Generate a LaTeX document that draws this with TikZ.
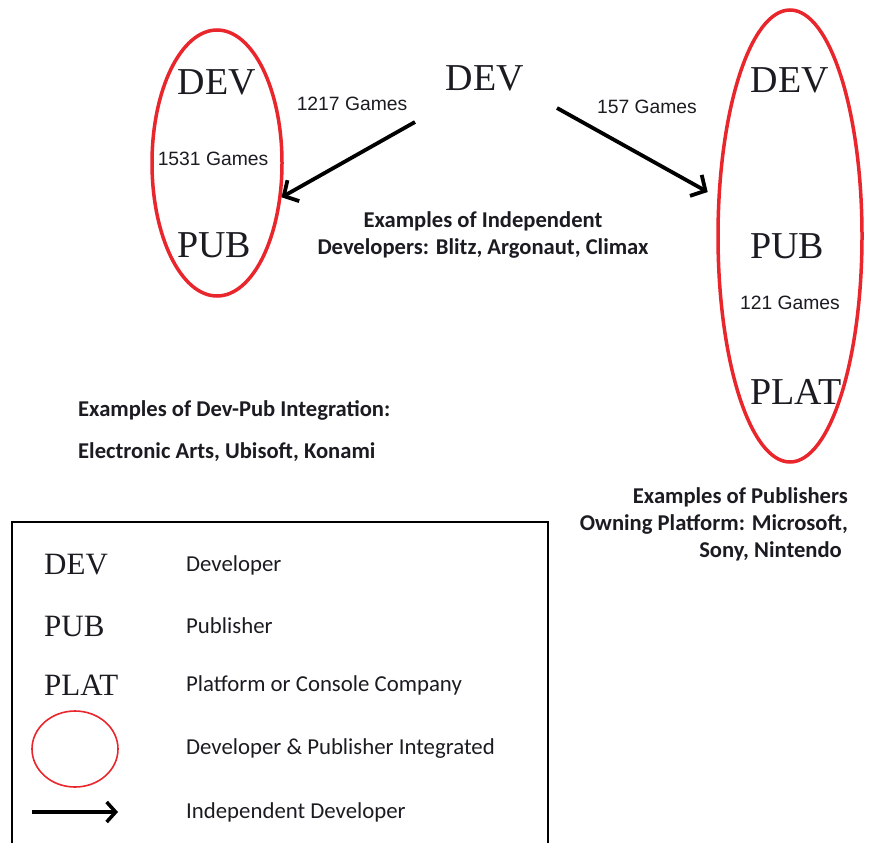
\documentclass[tikz,border=0pt]{standalone}
\usepackage{fontspec}
\setmainfont{Liberation Serif}
\newfontfamily\gamesfont{Liberation Sans}
\newfontfamily\notefont{Carlito}
\usepackage{tikz}
\usetikzlibrary{arrows.meta,positioning,shapes.geometric}
\definecolor{GRed}{HTML}{E8262C}
\definecolor{GInk}{HTML}{1B1B22}

\begin{document}
\begin{tikzpicture}[
  x=1pt,y=-1pt,
  role/.style={text=GInk,inner sep=1pt,font=\fontsize{38}{40}\selectfont},
  keyrole/.style={text=GInk,inner sep=0pt,anchor=west,font=\fontsize{31}{33}\selectfont},
  games/.style={text=GInk,inner sep=1pt,font=\gamesfont\fontsize{19.3}{22}\selectfont},
  note/.style={text=GInk,inner sep=0pt,font=\notefont\bfseries\fontsize{22.6}{27}\selectfont},
  keytext/.style={text=GInk,inner sep=0pt,anchor=west,font=\notefont\fontsize{22.8}{26}\selectfont},
  grp/.style={ellipse,draw=GRed,line width=3.5pt,inner sep=0pt},
  a/.style={-{Straight Barb[length=11pt,width=24pt,line width=3.8pt]},line width=3.8pt,color=black}
]
  \useasboundingbox (0,0) rectangle (874,843);

  % integrated developer / publisher
  \node[grp,minimum width=130,minimum height=266] (lgrp) at (217,163) {};
  \node[role] (ldev) at (217,82) {DEV};
  \node[role] (lpub) at (214,245) {PUB};
  \node[games] (l1531) at (213,159) {1531 Games};

  % publisher owning platform
  \node[grp,minimum width=144,minimum height=452] (rgrp) at (790,236) {};
  \node[role] (rdev) at (790,80) {DEV};
  \node[role] (rpub) at (787,246) {PUB};
  \node[games] (l121) at (790,303) {121 Games};
  \node[role] (rplat) at (796,392) {PLAT};

  % independent developer
  \node[role] (mdev) at (485,78) {DEV};
  \node[games] (l1217) at (352,104) {1217 Games};
  \node[games] (l157) at (647,107) {157 Games};
  \coordinate (startL) at (415,122);
  \coordinate (startR) at (557,108);
  \draw[a] (startL) -- (lgrp.-28);
  \draw[a,shorten >=11pt] (startR) -- (rgrp.152);

  % examples
  \node[note,align=center] (exind) at (483,235)
    {Examples of Independent\\Developers: Blitz, Argonaut, Climax};
  \node[note,anchor=west] (exint) at (78,410) {Examples of Dev-Pub Integration:};
  \node[note,anchor=west] (exint2) at (78,452) {Electronic Arts, Ubisoft, Konami};
  \node[note,align=right,anchor=east] (explat) at (848,524)
    {Examples of Publishers\\Owning Platform: Microsoft,\\Sony, Nintendo\hspace*{6pt}};

  % legend
  \draw[line width=2pt,color=black] (12,843) -- (12,522) -- (548,522) -- (548,843);
  \foreach \sym/\txt/\y in {DEV/Developer/565,PUB/Publisher/626,PLAT/Platform or Console Company/685}
    {\node[keyrole] (k\sym) at (44,\y) {\sym};
     \node[keytext] (t\sym) at (186,\y) {\txt};}
  \node[ellipse,draw=GRed,line width=1.6pt,minimum width=86,minimum height=76,inner sep=0pt] (kgrp) at (75,749) {};
  \node[keytext] (tgrp) at (186,749) {Developer \& Publisher Integrated};
  \coordinate (karrA) at (32,812);
  \coordinate (karrB) at (118,812);
  \draw[-{Straight Barb[length=9pt,width=20pt,line width=3.5pt]},line width=3.5pt] (karrA) -- (karrB);
  \node[keytext] (tarr) at (186,812) {Independent Developer};
\end{tikzpicture}
\end{document}
